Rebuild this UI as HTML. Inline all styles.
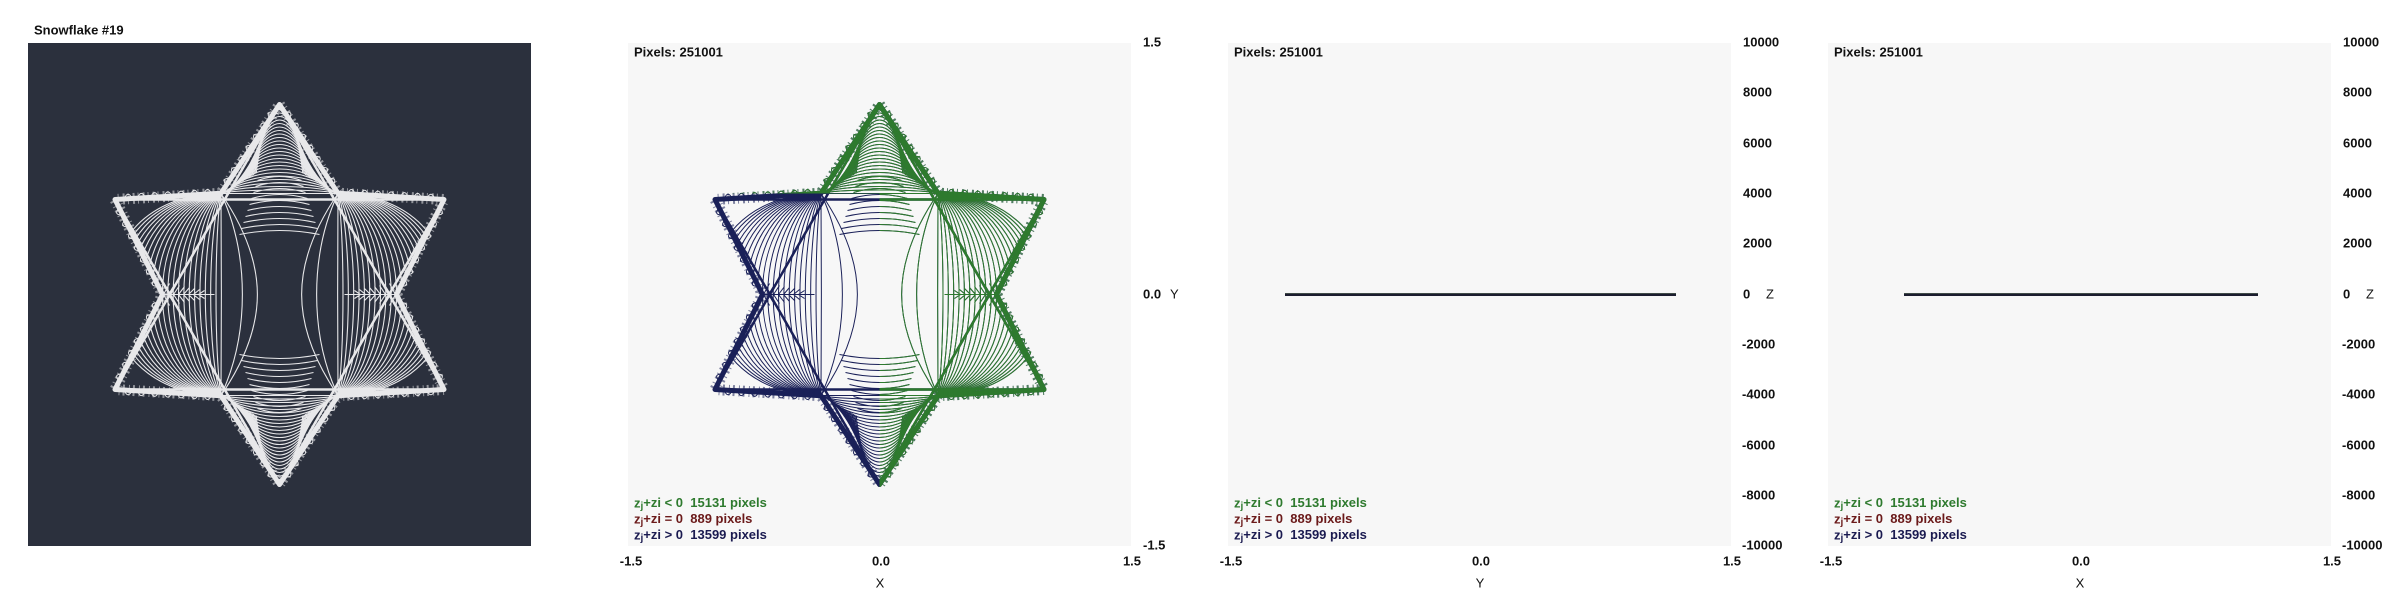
<!DOCTYPE html>
<html><head><meta charset="utf-8"><style>
html,body{margin:0;padding:0;background:#fff;width:2400px;height:600px;overflow:hidden}
svg{display:block}
text{font-family:"Liberation Sans",Arial,sans-serif;font-weight:bold;font-size:13px;fill:#111;dominant-baseline:middle;white-space:pre}
</style></head><body>
<svg id="s" width="2400" height="600" viewBox="0 0 2400 600" xmlns="http://www.w3.org/2000/svg" xml:space="preserve">
<defs>
<clipPath id="starclip"><polygon id="starpoly" points=""/></clipPath>
<clipPath id="greenclip"><polygon points="-260,-260 260,-260 260,260 0,260 0,-101 -260,-101"/></clipPath>
</defs>
<rect x="0" y="0" width="2400" height="600" fill="#fff"/>
<text x="34" y="31">Snowflake #19</text>
<rect x="28" y="43" width="503" height="503" fill="#2b303d"/>
<g id="p1" transform="translate(279.5,294.5)"></g>

<rect x="628" y="43" width="503" height="503" fill="#f7f7f7"/>
<g id="p2" transform="translate(879.5,294.5)"></g>
<text x="634" y="53">Pixels: 251001</text>
<text x="1143" y="43">1.5</text>
<text x="1143" y="295">0.0</text><text x="1170" y="295" style="font-weight:normal">Y</text>
<text x="1143" y="546">-1.5</text>
<text x="631" y="562" text-anchor="middle">-1.5</text>
<text x="881" y="562" text-anchor="middle">0.0</text>
<text x="1132" y="562" text-anchor="middle">1.5</text>
<text x="880" y="584" text-anchor="middle" style="font-weight:normal">X</text>

<rect x="1228" y="43" width="503" height="503" fill="#f7f7f7"/>
<text x="1234" y="53">Pixels: 251001</text>
<rect x="1285" y="293" width="391" height="3" fill="#1b1d2e"/>
<rect x="1285" y="293" width="391" height="1" fill="#5a6a5a" opacity="0.6"/>
<text x="1231" y="562" text-anchor="middle">-1.5</text>
<text x="1481" y="562" text-anchor="middle">0.0</text>
<text x="1732" y="562" text-anchor="middle">1.5</text>
<text x="1480" y="584" text-anchor="middle" style="font-weight:normal">Y</text>

<rect x="1828" y="43" width="503" height="503" fill="#f7f7f7"/>
<text x="1834" y="53">Pixels: 251001</text>
<rect x="1904" y="293" width="354" height="3" fill="#1b1d2e"/>
<rect x="1904" y="293" width="354" height="1" fill="#5a6a5a" opacity="0.6"/>
<text x="1831" y="562" text-anchor="middle">-1.5</text>
<text x="2081" y="562" text-anchor="middle">0.0</text>
<text x="2332" y="562" text-anchor="middle">1.5</text>
<text x="2080" y="584" text-anchor="middle" style="font-weight:normal">X</text>

<g>
<text x="634" y="504" style="fill:#2e7a2e">z<tspan dy="2" font-size="10">j</tspan><tspan dy="-2">+zi &lt; 0&#160;&#160;15131 pixels</tspan></text>
<text x="634" y="520" style="fill:#6b1a1a">z<tspan dy="2" font-size="10">j</tspan><tspan dy="-2">+zi = 0&#160;&#160;889 pixels</tspan></text>
<text x="634" y="536" style="fill:#1a1a50">z<tspan dy="2" font-size="10">j</tspan><tspan dy="-2">+zi &gt; 0&#160;&#160;13599 pixels</tspan></text>
<text x="1234" y="504" style="fill:#2e7a2e">z<tspan dy="2" font-size="10">j</tspan><tspan dy="-2">+zi &lt; 0&#160;&#160;15131 pixels</tspan></text>
<text x="1234" y="520" style="fill:#6b1a1a">z<tspan dy="2" font-size="10">j</tspan><tspan dy="-2">+zi = 0&#160;&#160;889 pixels</tspan></text>
<text x="1234" y="536" style="fill:#1a1a50">z<tspan dy="2" font-size="10">j</tspan><tspan dy="-2">+zi &gt; 0&#160;&#160;13599 pixels</tspan></text>
<text x="1834" y="504" style="fill:#2e7a2e">z<tspan dy="2" font-size="10">j</tspan><tspan dy="-2">+zi &lt; 0&#160;&#160;15131 pixels</tspan></text>
<text x="1834" y="520" style="fill:#6b1a1a">z<tspan dy="2" font-size="10">j</tspan><tspan dy="-2">+zi = 0&#160;&#160;889 pixels</tspan></text>
<text x="1834" y="536" style="fill:#1a1a50">z<tspan dy="2" font-size="10">j</tspan><tspan dy="-2">+zi &gt; 0&#160;&#160;13599 pixels</tspan></text>
</g>

<text x="1743" y="43">10000</text><text x="1743" y="93">8000</text><text x="1743" y="144">6000</text>
<text x="1743" y="194">4000</text><text x="1743" y="244">2000</text><text x="1743" y="295">0</text>
<text x="1766" y="295" style="font-weight:normal">Z</text>
<text x="1742" y="345">-2000</text><text x="1742" y="395">-4000</text><text x="1742" y="446">-6000</text>
<text x="1742" y="496">-8000</text><text x="1742" y="546">-10000</text>
<text x="2343" y="43">10000</text><text x="2343" y="93">8000</text><text x="2343" y="144">6000</text>
<text x="2343" y="194">4000</text><text x="2343" y="244">2000</text><text x="2343" y="295">0</text>
<text x="2366" y="295" style="font-weight:normal">Z</text>
<text x="2342" y="345">-2000</text><text x="2342" y="395">-4000</text><text x="2342" y="446">-6000</text>
<text x="2342" y="496">-8000</text><text x="2342" y="546">-10000</text>
</svg>
<script>
(function(){
var NS="http://www.w3.org/2000/svg";
var R=190,r=117;
var pts=[];
for(var i=0;i<12;i++){
  var ang=(-90+i*30)*Math.PI/180, rad=(i%2==0)?R:r;
  pts.push([rad*Math.cos(ang),rad*Math.sin(ang)]);
}
var ps=pts.map(function(p){return p[0].toFixed(1)+","+p[1].toFixed(1)}).join(" ");
document.getElementById("starpoly").setAttribute("points",ps);
function el(tag,attrs,parent){var e=document.createElementNS(NS,tag);for(var k in attrs)e.setAttribute(k,attrs[k]);parent.appendChild(e);return e;}
function build(g,col,w){
  var d="";
  for(var s=-1;s<=1;s+=2){
    for(var k=0;k<22;k++){
      var a=k/21;
      var cx=s*(58+a*150), cy=60+a*40;
      d+="M"+(s*58.5)+",-101 C"+cx+",-"+cy+" "+cx+","+cy+" "+(s*58.5)+",101 ";
    }
    d+="M"+(s*58.5)+",-101 C"+(s*10)+",-30 "+(s*10)+",30 "+(s*58.5)+",101 ";
    d+="M"+(s*58.5)+",-101 C"+(s*30)+",-40 "+(s*30)+",40 "+(s*58.5)+",101 ";
    d+="M"+(s*117)+",0 L"+(s*65)+",0 ";
    for(var k=0;k<8;k++){var x=s*(75+k*5);d+="M"+x+",-"+(4+k)+" L"+(x+s*6)+",0 L"+x+","+(4+k)+" ";}
  }
  for(var s=-1;s<=1;s+=2){
    for(var k=0;k<26;k++){
      var a=k/25;
      var cy=s*(101+a*110);
      var x0=58.5*(1-a*0.6);
      d+="M-"+x0+","+(s*101+s*a*20)+" C-"+(x0*0.5)+","+cy+" "+(x0*0.5)+","+cy+" "+x0+","+(s*101+s*a*20)+" ";
    }
    for(var k=0;k<10;k++){
      var yy=s*(60+k*6);
      d+="M-"+(40-k*2)+","+yy+" Q0,"+(yy+s*8)+" "+(40-k*2)+","+yy+" ";
    }
  }
  el("path",{d:d,fill:"none",stroke:col,"stroke-width":w,"clip-path":"url(#starclip)"},g);
  // scallops along outer edges
  var sc="";
  for(var i=0;i<12;i++){
    var p=pts[i],q=pts[(i+1)%12];
    var dx=q[0]-p[0],dy=q[1]-p[1],L=Math.sqrt(dx*dx+dy*dy);
    var mx=(p[0]+q[0])/2,my=(p[1]+q[1])/2;
    var nx=dy/L,ny=-dx/L; if(nx*mx+ny*my<0){nx=-nx;ny=-ny;}
    var n=Math.floor(L/12);
    for(var k=1;k<n;k++){
      var t=k/n,x=p[0]+dx*t,y=p[1]+dy*t;
      sc+="M"+(x-dx/L*4).toFixed(1)+","+(y-dy/L*4).toFixed(1)+" Q"+(x+nx*9).toFixed(1)+","+(y+ny*9).toFixed(1)+" "+(x+dx/L*4).toFixed(1)+","+(y+dy/L*4).toFixed(1)+" ";
    }
  }
  el("path",{d:sc,fill:"none",stroke:col,"stroke-width":1},g);
  el("polygon",{points:ps,fill:"none",stroke:col,"stroke-width":5,"stroke-linejoin":"round"},g);
  el("polygon",{points:ps,fill:"none",stroke:col,"stroke-width":11,"stroke-dasharray":"2 3 1 4","opacity":0.55,"stroke-linejoin":"round"},g);
  var tri1=[[0,-R],[R*Math.cos(Math.PI/6),R/2],[-R*Math.cos(Math.PI/6),R/2]];
  var tri2=[[0,R],[R*Math.cos(Math.PI/6),-R/2],[-R*Math.cos(Math.PI/6),-R/2]];
  [tri1,tri2].forEach(function(t){
    el("polygon",{points:t.map(function(p){return p[0].toFixed(1)+","+p[1].toFixed(1)}).join(" "),fill:"none",stroke:col,"stroke-width":2.5,"clip-path":"url(#starclip)"},g);
  });
}
var p1=document.getElementById("p1");build(p1,"#e8e8ea",1.1);
var p2=document.getElementById("p2");build(p2,"#1a2058",1);
var gg=el("g",{"clip-path":"url(#greenclip)"},p2);build(gg,"#2e7a2e",1);
})();
</script>
</body></html>
